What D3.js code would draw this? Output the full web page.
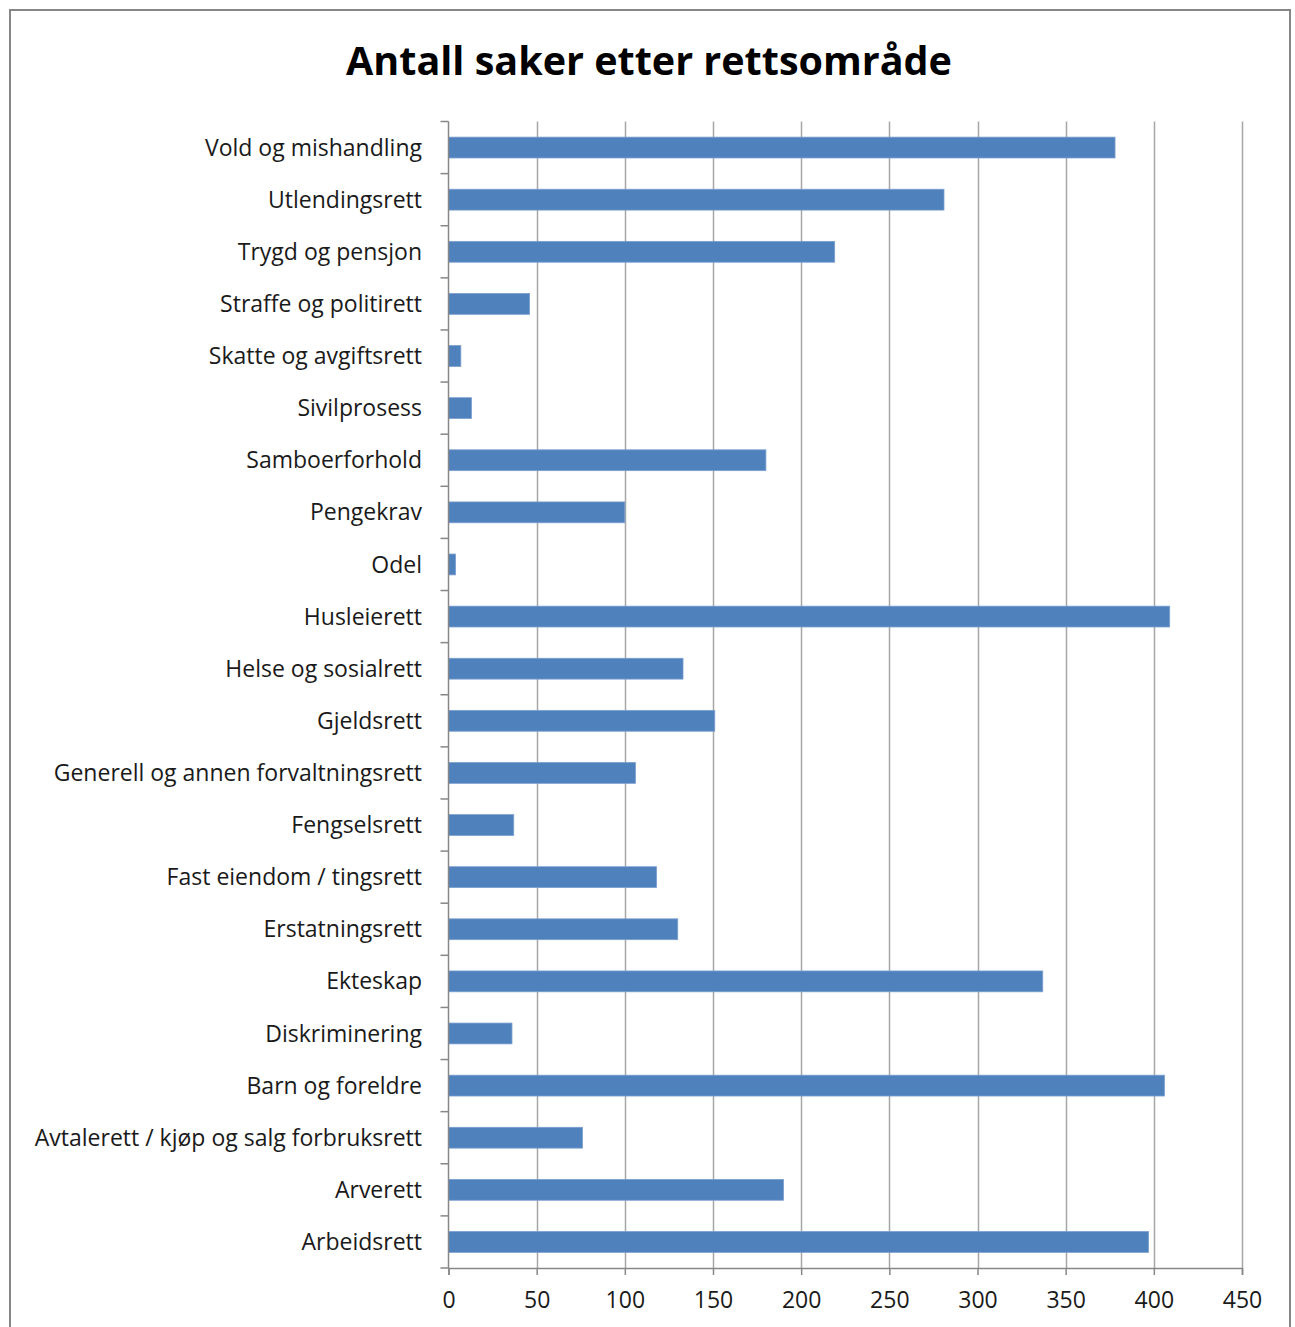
<!doctype html>
<html lang="en">
<head>
    <meta charset="utf-8">
    <title>Antall saker etter rettsområde</title>
    <script src="https://cdn.jsdelivr.net/npm/d3@7"></script>
    <style>
        body { margin: 0; background: #fff; }
        svg { display: block; }
        text { font-family: "Open Sans", "Noto Sans", sans-serif; fill: #1a1a1a; }
    </style>
</head>
<body>
    <svg></svg>
    <script>
        var width = 1295;
        var height = 1327;

        // categories from top to bottom, as shown
        var categories = [
            "Vold og mishandling", "Utlendingsrett", "Trygd og pensjon",
            "Straffe og politirett", "Skatte og avgiftsrett", "Sivilprosess",
            "Samboerforhold", "Pengekrav", "Odel", "Husleierett",
            "Helse og sosialrett", "Gjeldsrett", "Generell og annen forvaltningsrett",
            "Fengselsrett", "Fast eiendom / tingsrett", "Erstatningsrett",
            "Ekteskap", "Diskriminering", "Barn og foreldre",
            "Avtalerett / kjøp og salg forbruksrett", "Arverett", "Arbeidsrett"
        ];
        var values = [
            378, 281, 219, 46, 7, 13, 180, 100, 4, 409,
            133, 151, 106, 37, 118, 130, 337, 36, 406, 76, 190, 397
        ];
        var xTicks = [0, 50, 100, 150, 200, 250, 300, 350, 400, 450];

        var plotLeft = 448.5, plotRight = 1242, plotTop = 121.5, plotBottom = 1268;

        var svg = d3.select('svg').attr('width', width).attr('height', height);

        // outer frame
        svg.append('rect')
            .attr('x', 10).attr('y', 10)
            .attr('width', 1280).attr('height', 1330)
            .attr('fill', 'none')
            .attr('stroke', '#878787')
            .attr('stroke-width', 2);

        svg.append('text')
            .attr('x', 649).attr('y', 75)
            .attr('text-anchor', 'middle')
            .attr('font-size', '39.5px')
            .attr('font-weight', 'bold')
            .style('fill', '#000')
            .text('Antall saker etter rettsområde');

        var xScale = d3.scaleLinear().domain([0, 450]).range([plotLeft, plotRight]);
        var yScale = d3.scaleBand().domain(categories).range([plotTop, plotBottom])
            .paddingInner(0.6).paddingOuter(0.3);
        var yEdge = d3.scaleLinear().domain([0, categories.length]).range([plotTop, plotBottom]);

        // gridlines
        svg.append('g').selectAll('line')
            .data(xTicks.slice(1))
            .enter()
            .append('line')
            .attr('x1', function (d) { return Math.round(xScale(d)) + 0.5; })
            .attr('x2', function (d) { return Math.round(xScale(d)) + 0.5; })
            .attr('y1', plotTop).attr('y2', plotBottom)
            .attr('stroke', '#a6a6a6')
            .attr('stroke-width', 1.5);

        // bars
        svg.append('g').selectAll('rect')
            .data(values)
            .enter()
            .append('rect')
            .attr('x', xScale(0))
            .attr('y', function (d, i) { return yScale(categories[i]); })
            .attr('width', function (d) { return xScale(d) - xScale(0); })
            .attr('height', yScale.bandwidth())
            .attr('fill', '#4f81bd')
            .attr('stroke', '#7b9fd0')
            .attr('stroke-width', 0.8);

        // x axis
        var xAxis = d3.axisBottom(xScale).tickValues(xTicks).tickSize(7).tickPadding(17)
            .tickFormat(d3.format('d'));
        var gx = svg.append('g').attr('transform', 'translate(0,' + plotBottom + ')').call(xAxis);
        gx.select('.domain').attr('stroke', '#878787').attr('stroke-width', 1.5);
        gx.selectAll('.tick line').attr('stroke', '#878787').attr('stroke-width', 1.5);
        gx.selectAll('.tick text')
            .attr('font-size', '23px')
            .style('font-family', '"Open Sans", "Noto Sans", sans-serif')
            .style('fill', '#1a1a1a');

        // y axis line and ticks at band edges
        svg.append('line')
            .attr('x1', plotLeft).attr('x2', plotLeft)
            .attr('y1', plotTop).attr('y2', plotBottom)
            .attr('stroke', '#878787').attr('stroke-width', 1.5);
        svg.append('g').selectAll('line')
            .data(d3.range(categories.length + 1))
            .enter()
            .append('line')
            .attr('x1', plotLeft - 8).attr('x2', plotLeft)
            .attr('y1', function (d) { return yEdge(d); })
            .attr('y2', function (d) { return yEdge(d); })
            .attr('stroke', '#878787').attr('stroke-width', 1.5);

        // category labels
        svg.append('g').selectAll('text')
            .data(categories)
            .enter()
            .append('text')
            .attr('x', 422)
            .attr('y', function (d) { return yScale(d) + yScale.bandwidth() / 2; })
            .attr('dy', '0.35em')
            .attr('text-anchor', 'end')
            .attr('font-size', '23px')
            .text(function (d) { return d; });
    </script>
</body>
</html>
